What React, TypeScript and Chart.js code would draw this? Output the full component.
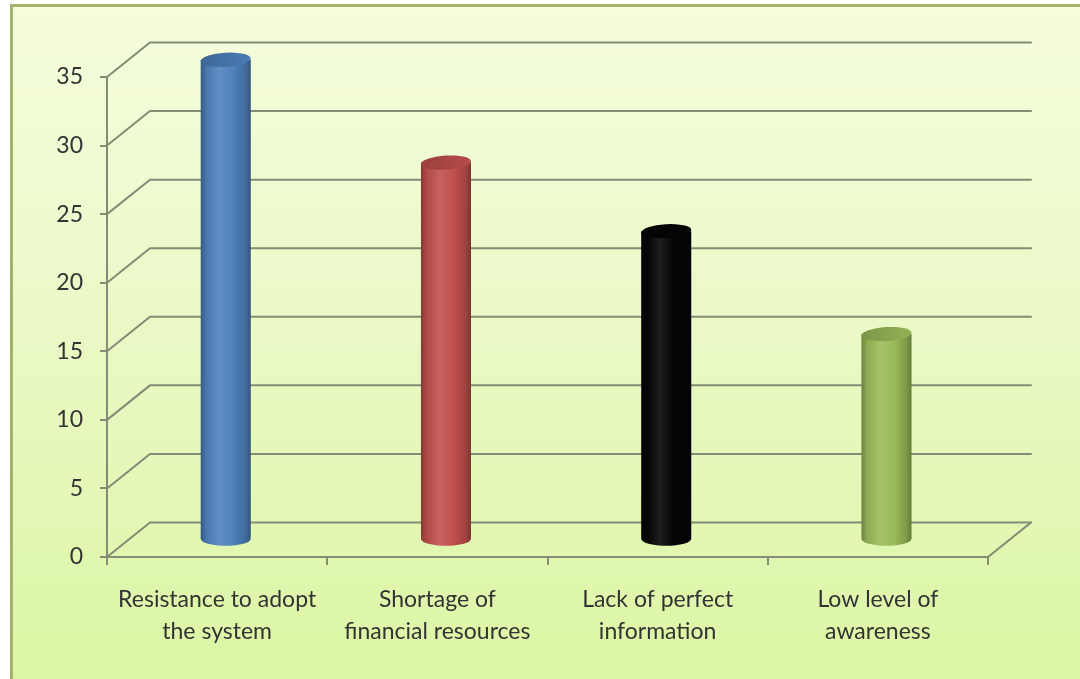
import React, { useEffect, useRef } from "react";
import { Chart, registerables } from "chart.js";

Chart.register(...registerables);

const categories: string[][] = [
  ["Resistance to adopt", "the system"],
  ["Shortage of", "financial resources"],
  ["Lack of perfect", "information"],
  ["Low level of", "awareness"],
];
const values: number[] = [35, 27.5, 22.5, 15];
const barColors: string[] = ["#4f81bd", "#c0504d", "#050505", "#9bbb59"];
const yMin = 0;
const yMax = 35;
const yStep = 5;

const DEPTH_X = 43;
const DEPTH_Y = 34.5;
const GRID_COLOR = "#838c74";
const TEXT_COLOR = "#333333";
const FONT_FAMILY = "Lato, 'Open Sans', sans-serif";

function hexToRgb(hex: string): [number, number, number] {
  const h = hex.replace("#", "");
  return [parseInt(h.slice(0, 2), 16), parseInt(h.slice(2, 4), 16), parseInt(h.slice(4, 6), 16)];
}
function shade(hex: string, amt: number): string {
  const [r, g, b] = hexToRgb(hex);
  const f = (c: number) =>
    Math.round(amt >= 0 ? c + (255 - c) * amt : c * (1 + amt));
  return `rgb(${f(r)},${f(g)},${f(b)})`;
}

const backgroundPlugin = {
  id: "bg3d",
  beforeDraw(chart: any) {
    const { ctx, width, height } = chart;
    ctx.save();
    ctx.fillStyle = "#ffffff";
    ctx.fillRect(0, 0, width, height);
    const g = ctx.createLinearGradient(0, 5, 0, height);
    g.addColorStop(0, "#f5fcdc");
    g.addColorStop(0.45, "#ebf9c8");
    g.addColorStop(1, "#dbf6a4");
    ctx.fillStyle = g;
    ctx.fillRect(10, 5, width - 10, height - 5);
    ctx.strokeStyle = "#a3b46a";
    ctx.lineWidth = 3;
    ctx.beginPath();
    ctx.moveTo(11.5, height);
    ctx.lineTo(11.5, 5.5);
    ctx.lineTo(width, 5.5);
    ctx.stroke();
    ctx.restore();
  },
};

const wallsPlugin = {
  id: "walls3d",
  beforeDatasetsDraw(chart: any) {
    const { ctx, chartArea } = chart;
    const yScale = chart.scales.y;
    ctx.save();
    ctx.strokeStyle = GRID_COLOR;
    ctx.lineWidth = 2;
    ctx.lineCap = "round";
    yScale.ticks.forEach((t: any) => {
      const py = yScale.getPixelForValue(t.value);
      ctx.beginPath();
      ctx.moveTo(chartArea.left, py);
      ctx.lineTo(chartArea.left + DEPTH_X, py - DEPTH_Y);
      ctx.lineTo(chartArea.right + DEPTH_X, py - DEPTH_Y);
      ctx.stroke();
    });
    const by = yScale.getPixelForValue(yMin);
    ctx.beginPath();
    ctx.moveTo(chartArea.right, by);
    ctx.lineTo(chartArea.right + DEPTH_X, by - DEPTH_Y);
    ctx.stroke();
    ctx.restore();
  },
};

function drawCylinder(
  ctx: CanvasRenderingContext2D,
  cx: number,
  topY: number,
  botY: number,
  r: number,
  ry: number,
  color: string
) {
  const body = ctx.createLinearGradient(cx - r, 0, cx + r, 0);
  body.addColorStop(0, shade(color, -0.3));
  body.addColorStop(0.12, shade(color, -0.08));
  body.addColorStop(0.38, shade(color, 0.1));
  body.addColorStop(0.65, color);
  body.addColorStop(0.9, shade(color, -0.18));
  body.addColorStop(1, shade(color, -0.35));
  ctx.beginPath();
  ctx.moveTo(cx - r, topY);
  ctx.lineTo(cx - r, botY);
  ctx.ellipse(cx, botY, r, ry, 0, Math.PI, 0, true);
  ctx.lineTo(cx + r, topY);
  ctx.closePath();
  ctx.fillStyle = body;
  ctx.fill();

  const top = ctx.createLinearGradient(cx - r, topY, cx + r, topY);
  top.addColorStop(0, shade(color, -0.2));
  top.addColorStop(1, shade(color, -0.05));
  ctx.beginPath();
  ctx.ellipse(cx, topY, r, ry, -0.06, 0, Math.PI * 2);
  ctx.fillStyle = top;
  ctx.fill();
}

const cylinderPlugin = {
  id: "cylinders",
  afterDatasetsDraw(chart: any) {
    const { ctx } = chart;
    const meta = chart.getDatasetMeta(0);
    ctx.save();
    meta.data.forEach((bar: any, i: number) => {
      const props = bar.getProps(["x", "y", "base", "width"], true);
      const cx = props.x + DEPTH_X * 0.2;
      const topY = props.y - DEPTH_Y / 2;
      const botY = props.base - DEPTH_Y / 2;
      drawCylinder(ctx, cx, topY, botY, props.width / 2, 7, barColors[i]);
    });
    ctx.restore();
  },
};

export default function App() {
  const canvasRef = useRef<HTMLCanvasElement | null>(null);

  useEffect(() => {
    if (!canvasRef.current) return;
    const chart = new Chart(canvasRef.current, {
      type: "bar",
      data: {
        labels: categories,
        datasets: [
          {
            data: values,
            backgroundColor: "rgba(0,0,0,0)",
            borderWidth: 0,
            barPercentage: 50 / 220,
            categoryPercentage: 1,
          },
        ],
      },
      options: {
        responsive: false,
        animation: false,
        devicePixelRatio: 1,
        layout: { padding: { top: 77, right: 92, left: 0, bottom: 0 } },
        plugins: {
          legend: { display: false },
          tooltip: { enabled: false },
          title: { display: false },
        },
        scales: {
          x: {
            type: "category",
            afterFit(scale: any) {
              scale.height = 122;
            },
            grid: {
              offset: true,
              drawOnChartArea: false,
              drawTicks: true,
              tickLength: 8,
              color: GRID_COLOR,
              lineWidth: 2,
            },
            border: { display: true, color: GRID_COLOR, width: 2 },
            ticks: {
              color: TEXT_COLOR,
              padding: 19,
              maxRotation: 0,
              autoSkip: false,
              font: { family: FONT_FAMILY, size: 23, lineHeight: 1.39 },
            },
          },
          y: {
            min: yMin,
            max: yMax,
            afterFit(scale: any) {
              scale.width = 107;
            },
            grid: {
              drawOnChartArea: false,
              drawTicks: true,
              tickLength: 7,
              color: GRID_COLOR,
              lineWidth: 2,
            },
            border: { display: true, color: GRID_COLOR, width: 2 },
            ticks: {
              stepSize: yStep,
              color: TEXT_COLOR,
              padding: 17,
              font: { family: FONT_FAMILY, size: 23 },
            },
          },
        },
      },
      plugins: [backgroundPlugin, wallsPlugin, cylinderPlugin],
    });
    return () => chart.destroy();
  }, []);

  return (
    <div style={{ position: "absolute", left: 0, top: 0, width: 1080, height: 679 }}>
      <canvas
        ref={canvasRef}
        width={1080}
        height={679}
        style={{ display: "block", width: 1080, height: 679 }}
      />
    </div>
  );
}
